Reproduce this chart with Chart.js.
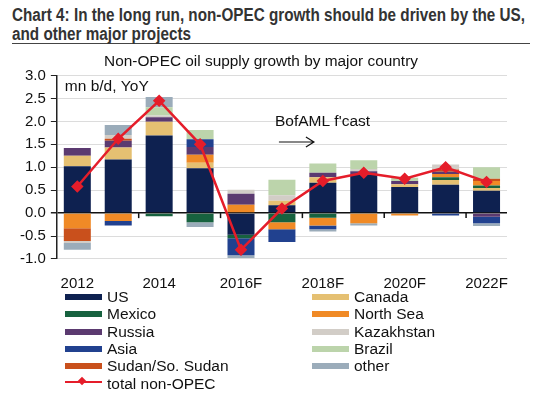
<!DOCTYPE html>
<html>
<head>
<meta charset="utf-8">
<script src="https://cdn.jsdelivr.net/npm/chart.js@4.4.1/dist/chart.umd.min.js"></script>
<style>
  body { margin: 0; background: #fff; width: 537px; height: 395px; overflow: hidden; position: relative; font-family: "Liberation Sans", Arial, sans-serif; }
  #head { position: absolute; left: 12px; top: 0; width: 518px; height: 43px; border-bottom: 1.5px solid #444; color: #333; }
  .hl { position: absolute; left: 0; white-space: nowrap; font-weight: bold; font-size: 18px; line-height: 19px; transform-origin: 0 0; }
  #box { position: absolute; left: 0; top: 50px; width: 537px; height: 251px; }
  #legend { position: absolute; left: 0; top: 288px; width: 537px; font-size: 15.5px; color: #111; }
  .item { position: absolute; height: 17px; line-height: 17px; white-space: nowrap; }
  .sw { display: inline-block; width: 37px; height: 6px; vertical-align: middle; margin-right: 5px; position: relative; top: -1px; }
</style>
</head>
<body>
<div id="head">
  <div class="hl" id="hl1" style="top:6px">Chart 4: In the long run, non-OPEC growth should be driven by the US,</div>
  <div class="hl" id="hl2" style="top:25px">and other major projects</div>
</div>
<div id="box"><canvas id="myChart"></canvas></div>
<div id="legend"></div>
<script>
var years = ['2012', '2013', '2014', '2015', '2016F', '2017F', '2018F', '2019F', '2020F', '2021F', '2022F'];
var yTicks = [-1.0, -0.5, 0.0, 0.5, 1.0, 1.5, 2.0, 2.5, 3.0];

// mn b/d, YoY by country (positive part stacks up, negative part stacks down)
var us         = [1.02, 1.17, 1.69, 0.98, -0.47, 0.17, 0.66, 0.84, 0.57, 0.62, 0.49];
var canada     = [0.23, 0.26, 0.30, 0.12, 0, 0.10, 0.12, 0, 0.06, 0.10, 0.06];
var mexico     = [0, 0, -0.07, -0.20, -0.08, -0.20, -0.10, 0, 0, 0.06, 0.05];
var northSea   = [-0.33, -0.17, 0, 0.17, 0.18, -0.15, -0.17, -0.22, -0.05, 0.07, 0.10];
var russia     = [0.17, 0.15, 0.10, 0.17, 0.24, 0, 0.10, 0.07, 0.07, 0.05, -0.08];
var asia       = [0, -0.10, 0, 0.17, -0.37, -0.28, -0.08, 0, 0, -0.05, -0.14];
var sudan      = [-0.28, 0.04, 0, 0, 0, 0, 0, 0, 0, 0.05, 0.05];
var kazakhstan = [-0.04, 0.08, 0.04, 0, 0.09, 0.12, 0, 0.05, 0, 0.11, 0];
var brazil     = [0, 0, 0.18, 0.20, 0, 0.34, 0.20, 0.19, 0.07, 0, 0.25];
var other      = [-0.15, 0.22, 0.22, -0.10, -0.06, 0, -0.05, -0.05, 0, 0, -0.06];
var totalNonOpec = [0.58, 1.62, 2.45, 1.50, -0.80, 0.10, 0.70, 0.88, 0.75, 1.00, 0.68];

var series = [
    { label: 'US', data: us, color: '#0e2150' },
    { label: 'Canada', data: canada, color: '#e5c072' },
    { label: 'Mexico', data: mexico, color: '#17623f' },
    { label: 'North Sea', data: northSea, color: '#f08a26' },
    { label: 'Russia', data: russia, color: '#5b3a70' },
    { label: 'Asia', data: asia, color: '#21418f' },
    { label: 'Sudan/So. Sudan', data: sudan, color: '#c9501c' },
    { label: 'Kazakhstan', data: kazakhstan, color: '#d2cdc7' },
    { label: 'Brazil', data: brazil, color: '#bcd4ab' },
    { label: 'other', data: other, color: '#9bacba' }
];

var FONT = '"Liberation Sans", Arial, sans-serif';

var datasets = series.map(function(s) {
    return {
        type: 'bar',
        label: s.label,
        data: s.data,
        backgroundColor: s.color,
        stack: 'countries',
        barPercentage: 0.66,
        categoryPercentage: 1
    };
});
datasets.push({
    type: 'line',
    label: 'total non-OPEC',
    data: totalNonOpec,
    stack: 'total',
    order: -1,
    borderColor: '#e51d2a',
    backgroundColor: '#e51d2a',
    borderWidth: 2.5,
    pointStyle: 'rectRot',
    pointRadius: 4.5,
    tension: 0
});

// text and arrow inside the plot, plus the small ticks on the zero line
var extras = {
    id: 'extras',
    afterDraw: function(chart) {
        var c = chart.ctx, x = chart.scales.x, y = chart.scales.y, a = chart.chartArea;
        c.save();
        c.fillStyle = '#111';
        c.font = '15.5px ' + FONT;
        c.textBaseline = 'middle';
        c.fillText('mn b/d, YoY', a.left + 8, y.getPixelForValue(2.76));
        c.fillText("BofAML f'cast", x.getPixelForValue(5) - 7, y.getPixelForValue(2.0));
        var ay = y.getPixelForValue(1.55), x0 = x.getPixelForValue(5) - 3, x1 = x0 + 35;
        c.strokeStyle = '#111';
        c.lineWidth = 1.2;
        c.beginPath();
        c.moveTo(x0, ay); c.lineTo(x1, ay);
        c.moveTo(x1 - 8, ay - 5); c.lineTo(x1, ay); c.lineTo(x1 - 8, ay + 5);
        c.stroke();
        var y0 = y.getPixelForValue(0);
        c.lineWidth = 1.5;
        for (var i = 1; i < years.length - 1; i += 2) {
            var tx = (x.getPixelForValue(i) + x.getPixelForValue(i + 1)) / 2;
            c.beginPath(); c.moveTo(tx, y0); c.lineTo(tx, y0 + 5); c.stroke();
        }
        c.restore();
    }
};

const ctx = document.getElementById('myChart');

var chart = new Chart(ctx, {
    data: {
        labels: years,
        datasets: datasets
    },
    options: {
        responsive: true,
        maintainAspectRatio: false,
        animation: false,
        layout: { padding: { left: 15, right: 30, top: 0, bottom: 0 } },
        plugins: {
            legend: { display: false },
            tooltip: { enabled: false },
            title: {
                display: true,
                text: 'Non-OPEC oil supply growth by major country',
                color: '#111',
                font: { family: FONT, size: 15.4, weight: 'normal' },
                padding: { top: 3, bottom: 4 }
            }
        },
        scales: {
            x: {
                stacked: true,
                grid: { display: false },
                border: { display: false },
                ticks: {
                    autoSkip: false,
                    maxRotation: 0,
                    color: '#111',
                    font: { family: FONT, size: 15 },
                    padding: 8,
                    callback: function(v, i) { return i % 2 === 0 ? years[i] : ''; }
                }
            },
            y: {
                stacked: true,
                min: -1,
                max: 3,
                afterBuildTicks: function(axis) {
                    axis.ticks = yTicks.map(function(v) { return { value: v }; });
                },
                border: { display: true, color: '#222', width: 1.5 },
                grid: {
                    color: function(c) { return c.tick && c.tick.value === 0 ? '#111' : '#dcdcdc'; },
                    lineWidth: function(c) { return c.tick && c.tick.value === 0 ? 1.5 : 1; },
                    tickColor: '#222',
                    tickLength: 6
                },
                ticks: {
                    color: '#111',
                    font: { family: FONT, size: 15 },
                    padding: 5,
                    callback: function(v) { return v.toFixed(1); }
                }
            }
        }
    },
    plugins: [extras]
});

// squeeze the headline like the condensed original
var hl1 = document.getElementById('hl1'), hl2 = document.getElementById('hl2');
var k = 513 / hl1.scrollWidth;
hl1.style.transform = 'scaleX(' + k + ')';
hl2.style.transform = 'scaleX(' + k + ')';

// two-column legend under the chart
var leftCol = ['US', 'Mexico', 'Russia', 'Asia', 'Sudan/So. Sudan', 'total non-OPEC'];
var rightCol = ['Canada', 'North Sea', 'Kazakhstan', 'Brazil', 'other'];
var legend = document.getElementById('legend');
function addItem(name, left, row) {
    var el = document.createElement('div');
    el.className = 'item';
    el.style.left = left + 'px';
    el.style.top = (row * 17.3) + 'px';
    var sw;
    if (name === 'total non-OPEC') {
        sw = '<span class="sw" style="height:2px;background:#e51d2a;top:-2px"><span style="position:absolute;left:14px;top:-3px;width:6px;height:6px;background:#e51d2a;transform:rotate(45deg)"></span></span>';
    } else {
        var s = series.filter(function(d) { return d.label === name; })[0];
        sw = '<span class="sw" style="background:' + s.color + '"></span>';
    }
    el.innerHTML = sw + name;
    legend.appendChild(el);
}
leftCol.forEach(function(n, i) { addItem(n, 65, i); });
rightCol.forEach(function(n, i) { addItem(n, 312, i); });
</script>
</body>
</html>
